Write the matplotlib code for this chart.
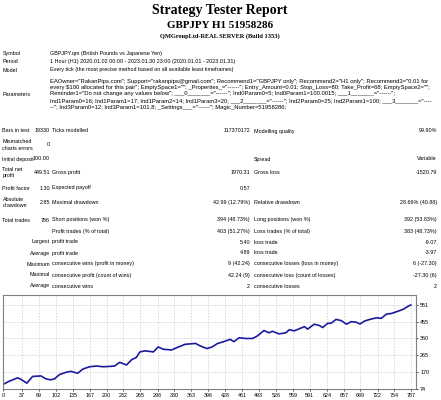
import matplotlib
matplotlib.use("Agg")
import matplotlib.pyplot as plt

W, H = 441, 400
INK = "#000000"
NAVY = "#1a1a9c"
GRID = "#c8c8c8"
FRAME = "#808080"
SANS = "Liberation Sans"
SERIF = "Liberation Serif"
FS = 3.9
PARAM_FS = 4.2

# balance curve (trade number, balance)
TRADE_NO = [0, 12, 28, 34, 46, 57, 73, 83, 92, 99, 109, 122, 131, 144, 154,
            167, 180, 193, 206, 215, 225, 238, 248, 257, 264, 274, 290, 299,
            309, 325, 335, 351, 371, 380, 393, 403, 413, 425, 438, 445, 455,
            468, 481, 490, 503, 513, 519, 532, 545, 552, 561, 581, 587, 600,
            610, 616, 626, 632, 642, 652, 662, 671, 681, 688, 697, 707, 720,
            729, 739, 749, 762, 772, 781, 786]
BALANCE = [100, 118, 137, 130, 107, 145, 148, 131, 126, 131, 156, 169, 174,
           163, 187, 200, 204, 200, 202, 204, 225, 210, 240, 253, 284, 290,
           284, 312, 299, 295, 308, 327, 332, 318, 303, 312, 331, 342, 355,
           342, 364, 360, 360, 374, 405, 392, 401, 386, 392, 410, 403, 427,
           413, 441, 433, 422, 446, 446, 468, 461, 441, 455, 452, 442, 459,
           468, 477, 474, 498, 502, 515, 526, 543, 549.51]
X_TICKS = [0, 37, 69, 102, 135, 167, 200, 232, 265, 298, 330, 363, 396, 428,
           461, 493, 526, 559, 591, 624, 657, 689, 722, 754, 787]
Y_TICKS = [74, 170, 265, 360, 455, 551]

HEAD_ROWS = [
    (53, "Symbol", "GBPJPY.qm (British Pounds vs Japanese Yen)"),
    (61.5, "Period", "1 Hour (H1) 2020.01.02 00:00 - 2023.01.30 23:00 (2020.01.01 - 2023.01.31)"),
    (70, "Model", "Every tick (the most precise method based on all available least timeframes)"),
]
PARAM_LINES = [
    'EAOwner="RakanPips.com"; Support="rakanpips@gmail.com"; Recommend1="GBPJPY only"; Recommend2="H1 only"; Recommend3="0.01 for',
    'every $100 allocated for this pair"; EmptySpace1=""; _Properties_="------"; Entry_Amount=0.01; Stop_Loss=80; Take_Profit=68; EmptySpace2="";',
    'Reminder1="Do not change any values below"; ___0_______="------"; Ind0Param0=5; Ind0Param1=100.0015; ___1_______="------";',
    'Ind1Param0=16; Ind1Param1=17; Ind1Param2=14; Ind1Param3=20; ___2_______="------"; Ind2Param0=25; Ind2Param1=100; ___3_______="----',
    '--"; Ind3Param0=12; Ind3Param1=101.8; _Settings___="------"; Magic_Number=51958286;',
]
# y, label, value, label2, value2, label3, value3
STAT_ROWS = [
    (131, "Bars in test", "19330", "Ticks modelled", "117370172", "Modelling quality", "99.90%"),
    (145, "Mismatched\ncharts errors", "0", "", "", "", ""),
    (159, "Initial deposit", "100.00", "", "", "Spread", "Variable"),
    (172.5, "Total net\nprofit", "449.51", "Gross profit", "1970.31", "Gross loss", "-1520.79"),
    (188, "Profit factor", "1.30", "Expected payoff", "0.57", "", ""),
    (202.5, "Absolute\ndrawdown", "2.85", "Maximal drawdown", "42.99 (12.79%)", "Relative drawdown", "28.66% (40.88)"),
    (220, "Total trades", "786", "Short positions (won %)", "394 (48.73%)", "Long positions (won %)", "392 (53.83%)"),
    (231, "", "", "Profit trades (% of total)", "403 (51.27%)", "Loss trades (% of total)", "383 (48.73%)"),
    (242, "", "Largest", "profit trade", "5.40", "loss trade", "-9.07"),
    (253, "", "Average", "profit trade", "4.89", "loss trade", "-3.97"),
    (264, "", "Maximum", "consecutive wins (profit in money)", "9 (42.24)", "consecutive losses (loss in money)", "6 (-27.30)"),
    (275, "", "Maximal", "consecutive profit (count of wins)", "42.24 (9)", "consecutive loss (count of losses)", "-27.30 (6)"),
    (286, "", "Average", "consecutive wins", "2", "consecutive losses", "2"),
]

X_LAB, X_VAL, X_LAB2, X_VAL2, X_LAB3, X_VAL3 = 2.5, 50, 52, 250, 253.5, 437
CHART_L, CHART_R, CHART_T, CHART_B = 3, 416, 294.5, 389


def text(ax, x, y, s, *, size=FS, color=INK, ha="left", family=SANS,
         weight="normal"):
    return ax.text(x, y, s, fontsize=size, color=color, ha=ha, va="center",
                   family=family, fontweight=weight, linespacing=1.3)


fig = plt.figure(figsize=(W / 100, H / 100), dpi=100, facecolor="white")
tx = fig.add_axes([0, 0, 1, 1])
tx.set_xlim(0, W)
tx.set_ylim(H, 0)
tx.axis("off")

# header
text(tx, 220, 10.5, "Strategy Tester Report", size=10, family=SERIF, weight="bold", ha="center")
text(tx, 220, 25, "GBPJPY H1 51958286", size=7.9, family=SERIF, weight="bold", ha="center")
text(tx, 220, 36, "QMGroupLtd-REAL SERVER (Build 1353)", size=4.6, family=SERIF, weight="bold", ha="center")

for y, lab, val in HEAD_ROWS:
    text(tx, X_LAB, y, lab)
    text(tx, X_LAB2 - 2, y, val)

text(tx, X_LAB, 94, "Parameters")
for i, ln in enumerate(PARAM_LINES):
    text(tx, X_LAB2 - 2, 81 + i * 6.5, ln, size=PARAM_FS)

for y, lab, val, lab2, val2, lab3, val3 in STAT_ROWS:
    text(tx, X_LAB, y, lab)
    text(tx, X_VAL, y, val, ha="right")
    text(tx, X_LAB2, y, lab2)
    text(tx, X_VAL2, y, val2, ha="right")
    text(tx, X_LAB3, y, lab3)
    text(tx, X_VAL3, y, val3, ha="right")

# balance chart
ax = fig.add_axes([CHART_L / W, 1 - CHART_B / H, (CHART_R - CHART_L) / W,
                   (CHART_B - CHART_T) / H])
ax.plot(TRADE_NO, BALANCE, color=NAVY, linewidth=1.2)
ax.set_xlim(0, 796)
ax.set_ylim(74, 609)
ax.set_xticks(X_TICKS)
ax.set_yticks(Y_TICKS)
ax.yaxis.tick_right()
ax.grid(True, color=GRID, linestyle=(0, (2, 2)), linewidth=0.5)
ax.tick_params(axis="both", labelsize=3.9, length=1.5, width=0.5, pad=1.5,
               colors=INK)
for lab in ax.get_xticklabels() + ax.get_yticklabels():
    lab.set_family(SANS)
for sp in ax.spines.values():
    sp.set_color(FRAME)
    sp.set_linewidth(0.8)

# legend line in the chart corner
fig.canvas.draw()
rend = fig.canvas.get_renderer()
x = CHART_L + 1.5
for s, c in [("Balance", "#2020c0"), (" / ", INK), ("Equity", "#10a010"),
             (" / Every tick (the most precise method based on all available least timeframes to generate each tick) / 99.90%", INK)]:
    t = text(tx, x, 298.5, s, size=3.8, color=c)
    x += t.get_window_extent(rend).width

fig.savefig("out.png", dpi=100, facecolor="white")
